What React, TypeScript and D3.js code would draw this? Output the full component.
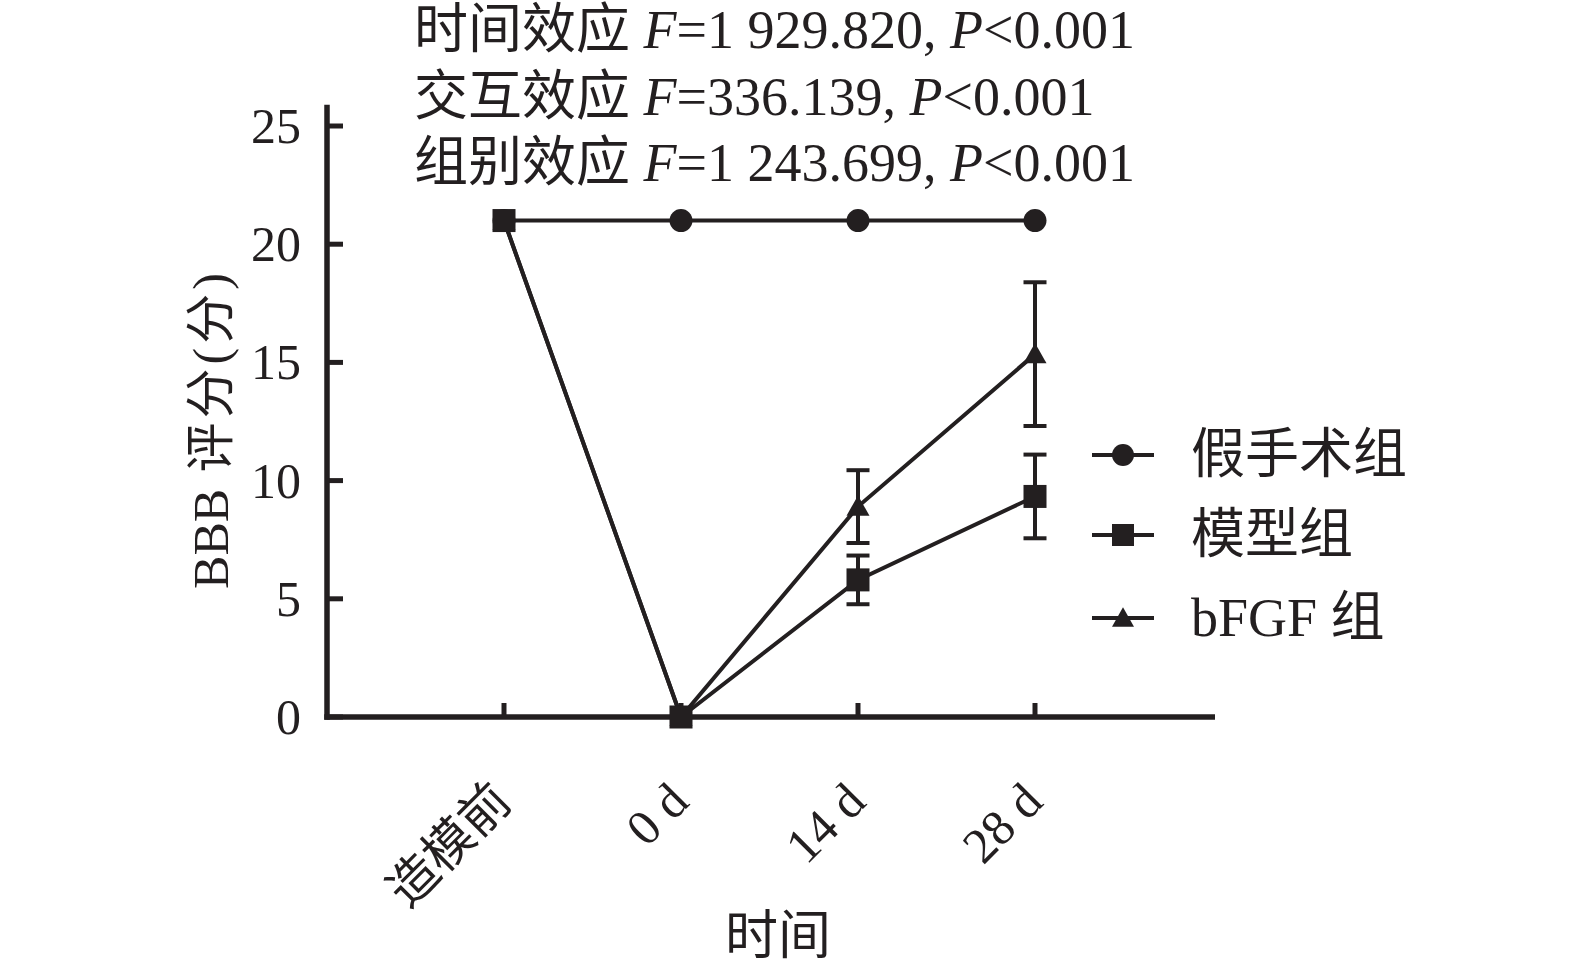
import React from 'react';
import * as d3 from 'd3';

const categories = ['造模前', '0 d', '14 d', '28 d'];
const shamMean = [21, 21, 21, 21];
const shamSD = [0, 0, 0, 0];
const modelMean = [21, 0, 5.8, 9.33];
const modelSD = [0, 0, 1.03, 1.77];
const bfgfMean = [21, 0, 8.9, 15.35];
const bfgfSD = [0, 0, 1.54, 3.04];
const yTicks = [0, 5, 10, 15, 20, 25];
const seriesNames = ['假手术组', '模型组', 'bFGF 组'];
const statLabels = ['时间效应', '交互效应', '组别效应'];
const statF = ['1 929.820', '336.139', '1 243.699'];
const statP = ['0.001', '0.001', '0.001'];
const xTitle = '时间';
const yTitleA = 'BBB';
const yTitleB = ' 评分(分)';

const W = 1575;
const H = 966;
const INK = '#231f20';
const FONT = "'Liberation Serif', 'Noto Sans CJK SC', serif";

type Shape = 'circle' | 'square' | 'triangle';

function Marker({ x, y, shape, size }: { x: number; y: number; shape: Shape; size: number }) {
  const h = size / 2;
  if (shape === 'circle') return <circle cx={x} cy={y} r={h} fill={INK} />;
  if (shape === 'square') return <rect x={x - h} y={y - h} width={size} height={size} fill={INK} />;
  const th = size * 0.88;
  return (
    <path
      d={`M${x},${y - th / 2 - 1}L${x + h},${y + th / 2 - 1}L${x - h},${y + th / 2 - 1}Z`}
      fill={INK}
    />
  );
}

export default function App() {
  const x = d3.scalePoint<string>().domain(categories).range([327, 1212]).padding(1);
  const y = d3.scaleLinear().domain([0, 25]).range([717, 126]);

  const series = [
    { name: seriesNames[0], mean: shamMean, sd: shamSD, shape: 'circle' as Shape },
    { name: seriesNames[2], mean: bfgfMean, sd: bfgfSD, shape: 'triangle' as Shape },
    { name: seriesNames[1], mean: modelMean, sd: modelSD, shape: 'square' as Shape },
  ];

  const line = d3
    .line<number>()
    .x((_, i) => x(categories[i]) as number)
    .y((d) => y(d));

  const legend = [
    { name: seriesNames[0], shape: 'circle' as Shape, cy: 455 },
    { name: seriesNames[1], shape: 'square' as Shape, cy: 535 },
    { name: seriesNames[2], shape: 'triangle' as Shape, cy: 618 },
  ];

  return (
    <svg
      width={W}
      height={H}
      viewBox={`0 0 ${W} ${H}`}
      style={{ position: 'absolute', left: 0, top: 0, background: '#fff' }}
      fontFamily={FONT}
    >
      <rect x={0} y={0} width={W} height={H} fill="#fff" />

      {/* stats text */}
      {statLabels.map((lab, i) => (
        <text key={lab} x={414} y={48 + i * 66.5} fontSize={54} fill={INK}>
          <tspan>{lab} </tspan>
          <tspan fontStyle="italic">F</tspan>
          <tspan>={statF[i]}, </tspan>
          <tspan fontStyle="italic">P</tspan>
          <tspan>{'<' + statP[i]}</tspan>
        </text>
      ))}

      {/* axes */}
      <line x1={327} x2={327} y1={y(0) + 2.75} y2={y(25.9)} stroke={INK} strokeWidth={5.5} />
      <line x1={324.25} x2={1215} y1={y(0)} y2={y(0)} stroke={INK} strokeWidth={5.5} />
      {yTicks.map((t) => (
        <g key={t}>
          <line x1={327} x2={343} y1={y(t)} y2={y(t)} stroke={INK} strokeWidth={5} />
          <text x={301} y={y(t) + 17} fontSize={50} textAnchor="end" fill={INK}>
            {t}
          </text>
        </g>
      ))}
      {categories.map((c) => (
        <g key={c}>
          <line
            x1={x(c) as number}
            x2={x(c) as number}
            y1={y(0)}
            y2={y(0) - 14}
            stroke={INK}
            strokeWidth={5}
          />
          <text
            transform={`translate(${(x(c) as number) + 10},804) rotate(-45)`}
            fontSize={50}
            textAnchor="end"
            fill={INK}
          >
            {c}
          </text>
        </g>
      ))}

      {/* axis titles */}
      <text x={778} y={954} fontSize={53} textAnchor="middle" fill={INK}>
        {xTitle}
      </text>
      <text
        transform="translate(228,429) rotate(-90)"
        fontSize={50}
        textAnchor="middle"
        fill={INK}
      >
        <tspan>{yTitleA}</tspan>
        <tspan letterSpacing={4}>{yTitleB}</tspan>
      </text>

      {/* series */}
      {series.map((s) => (
        <g key={s.name}>
          <path d={line(s.mean) || ''} fill="none" stroke={INK} strokeWidth={4} />
          {s.mean.map((m, i) =>
            s.sd[i] > 0 ? (
              <g key={i}>
                <line
                  x1={x(categories[i]) as number}
                  x2={x(categories[i]) as number}
                  y1={y(m - s.sd[i])}
                  y2={y(m + s.sd[i])}
                  stroke={INK}
                  strokeWidth={4}
                />
                {[m - s.sd[i], m + s.sd[i]].map((v, k) => (
                  <line
                    key={k}
                    x1={(x(categories[i]) as number) - 11.5}
                    x2={(x(categories[i]) as number) + 11.5}
                    y1={y(v)}
                    y2={y(v)}
                    stroke={INK}
                    strokeWidth={4}
                  />
                ))}
              </g>
            ) : null
          )}
          {s.mean.map((m, i) => (
            <Marker key={i} x={x(categories[i]) as number} y={y(m)} shape={s.shape} size={23} />
          ))}
        </g>
      ))}

      {/* legend */}
      {legend.map((l) => (
        <g key={l.name}>
          <line x1={1092} x2={1154} y1={l.cy} y2={l.cy} stroke={INK} strokeWidth={4} />
          <Marker x={1123} y={l.cy} shape={l.shape} size={22} />
          <text x={1191} y={l.cy + 18} fontSize={54} fill={INK}>
            {l.name}
          </text>
        </g>
      ))}
    </svg>
  );
}
